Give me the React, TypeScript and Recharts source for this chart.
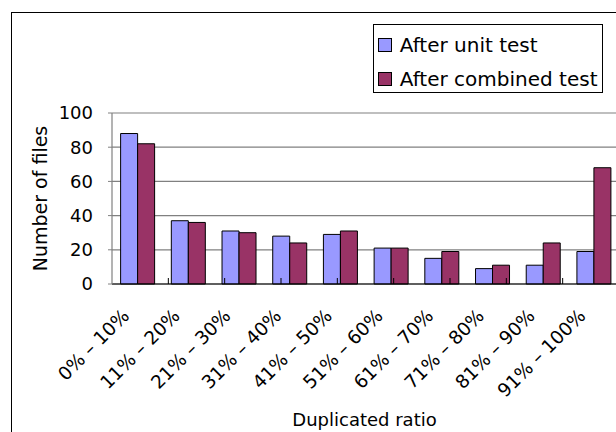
import React from 'react';
import { BarChart, Bar, XAxis, YAxis, CartesianGrid, Legend, Label } from 'recharts';

const categories = [
  '0% – 10%',
  '11% – 20%',
  '21% – 30%',
  '31% – 40%',
  '41% – 50%',
  '51% – 60%',
  '61% – 70%',
  '71% – 80%',
  '81% – 90%',
  '91% – 100%',
];
const afterUnitTest = [88, 37, 31, 28, 29, 21, 15, 9, 11, 19];
const afterCombinedTest = [82, 36, 30, 24, 31, 21, 19, 11, 24, 68];
const seriesNames = ['After unit test', 'After combined test'];
const yTicks = [0, 20, 40, 60, 80, 100];
const boundaryTicks = [1, 2, 3, 4, 5, 6, 7, 8, 9];

const data = categories.map((name, i) => ({
  name,
  unit: afterUnitTest[i],
  combined: afterCombinedTest[i],
}));

const FONT = '"DejaVu Sans", "Liberation Sans", sans-serif';

const XTick = (props: any) => {
  const { x, y, payload } = props;
  const ax = x - 7;
  const ay = y + 33;
  return (
    <text
      x={ax}
      y={ay}
      transform={`rotate(-45, ${ax}, ${ay})`}
      textAnchor="end"
      fontFamily={FONT}
      fontSize={18.5}
      fill="#000"
    >
      {payload.value}
    </text>
  );
};

const EmptyTick = () => <g />;

const YLabel = (props: any) => {
  const { viewBox } = props;
  const cx = viewBox.x + 38.5;
  const cy = viewBox.y + viewBox.height / 2;
  return (
    <text
      x={cx}
      y={cy}
      transform={`rotate(-90, ${cx}, ${cy})`}
      textAnchor="middle"
      fontFamily={FONT}
      fontSize={19}
      fill="#000"
    >
      Number of files
    </text>
  );
};

const XLabel = (props: any) => {
  const { viewBox } = props;
  const cx = viewBox.x + viewBox.width / 2 - 1;
  const cy = 275 + 143;
  return (
    <text x={cx} y={cy} textAnchor="middle" fontFamily={FONT} fontSize={18} fill="#000">
      Duplicated ratio
    </text>
  );
};

const LegendContent = (props: any) => {
  const payload = [...(props.payload || [])].sort(
    (a: any, b: any) => seriesNames.indexOf(a.value) - seriesNames.indexOf(b.value)
  );
  return (
    <div
      style={{
        width: 230,
        height: 69,
        border: '1px solid #000',
        boxSizing: 'border-box',
        background: '#fff',
        position: 'relative',
        fontFamily: FONT,
        fontSize: 20,
        color: '#000',
      }}
    >
      {payload.map((p: any, i: number) => (
        <div
          key={i}
          style={{
            position: 'absolute',
            left: 4,
            top: 9 + i * 34,
            height: 22,
            display: 'flex',
            alignItems: 'center',
            whiteSpace: 'nowrap',
          }}
        >
          <span
            style={{
              display: 'inline-block',
              width: 14,
              height: 14,
              border: '1px solid #000',
              boxSizing: 'border-box',
              background: p.color,
            }}
          />
          <span style={{ marginLeft: 8, lineHeight: '22px' }}>{p.value}</span>
        </div>
      ))}
    </div>
  );
};

export default function App() {
  return (
    <div
      style={{
        position: 'fixed',
        left: 8,
        top: 8,
        width: 608,
        height: 424,
        overflow: 'hidden',
        background: '#fff',
      }}
    >
      <div
        style={{
          position: 'absolute',
          left: 3,
          top: 4,
          width: 700,
          height: 600,
          border: '1.5px solid #000',
          boxSizing: 'border-box',
        }}
      />
      <div style={{ position: 'absolute', left: 0, top: 0 }}>
        <BarChart
          width={640}
          height={440}
          data={data}
          margin={{ top: 105, right: 29, bottom: 163, left: 0 }}
          barCategoryGap="17%"
          barGap={0}
        >
          <CartesianGrid
            xAxisId="cat"
            vertical={false}
            stroke="#808080"
            strokeWidth={1.2}
          />
          <XAxis
            xAxisId="bounds"
            type="number"
            domain={[0, 10]}
            ticks={boundaryTicks}
            allowDataOverflow
            height={1}
            mirror
            tick={<EmptyTick />}
            tickSize={6}
            axisLine={{ stroke: '#000', strokeWidth: 1.2 }}
            tickLine={{ stroke: '#000', strokeWidth: 1 }}
          />
          <XAxis
            xAxisId="cat"
            dataKey="name"
            height={1}
            tickLine={false}
            axisLine={false}
            tickSize={0}
            tickMargin={0}
            interval={0}
            tick={<XTick />}
          >
            <Label content={<XLabel />} />
          </XAxis>
          <YAxis
            width={104}
            domain={[0, 100]}
            ticks={yTicks}
            tickSize={4}
            tickMargin={15}
            axisLine={{ stroke: '#808080', strokeWidth: 1.2 }}
            tickLine={{ stroke: '#808080' }}
            tick={{ fill: '#000', fontSize: 18, fontFamily: FONT }}
          >
            <Label content={<YLabel />} />
          </YAxis>
          <Legend
            layout="vertical"
            align="center"
            verticalAlign="middle"
            wrapperStyle={{ position: 'absolute', left: 364.7, top: 16, width: 230, height: 69 }}
            content={<LegendContent />}
          />
          <Bar
            xAxisId="cat"
            dataKey="unit"
            name={seriesNames[0]}
            fill="#9999FF"
            stroke="#000"
            strokeWidth={1}
            isAnimationActive={false}
          />
          <Bar
            xAxisId="cat"
            dataKey="combined"
            name={seriesNames[1]}
            fill="#993366"
            stroke="#000"
            strokeWidth={1}
            isAnimationActive={false}
          />
        </BarChart>
      </div>
    </div>
  );
}
